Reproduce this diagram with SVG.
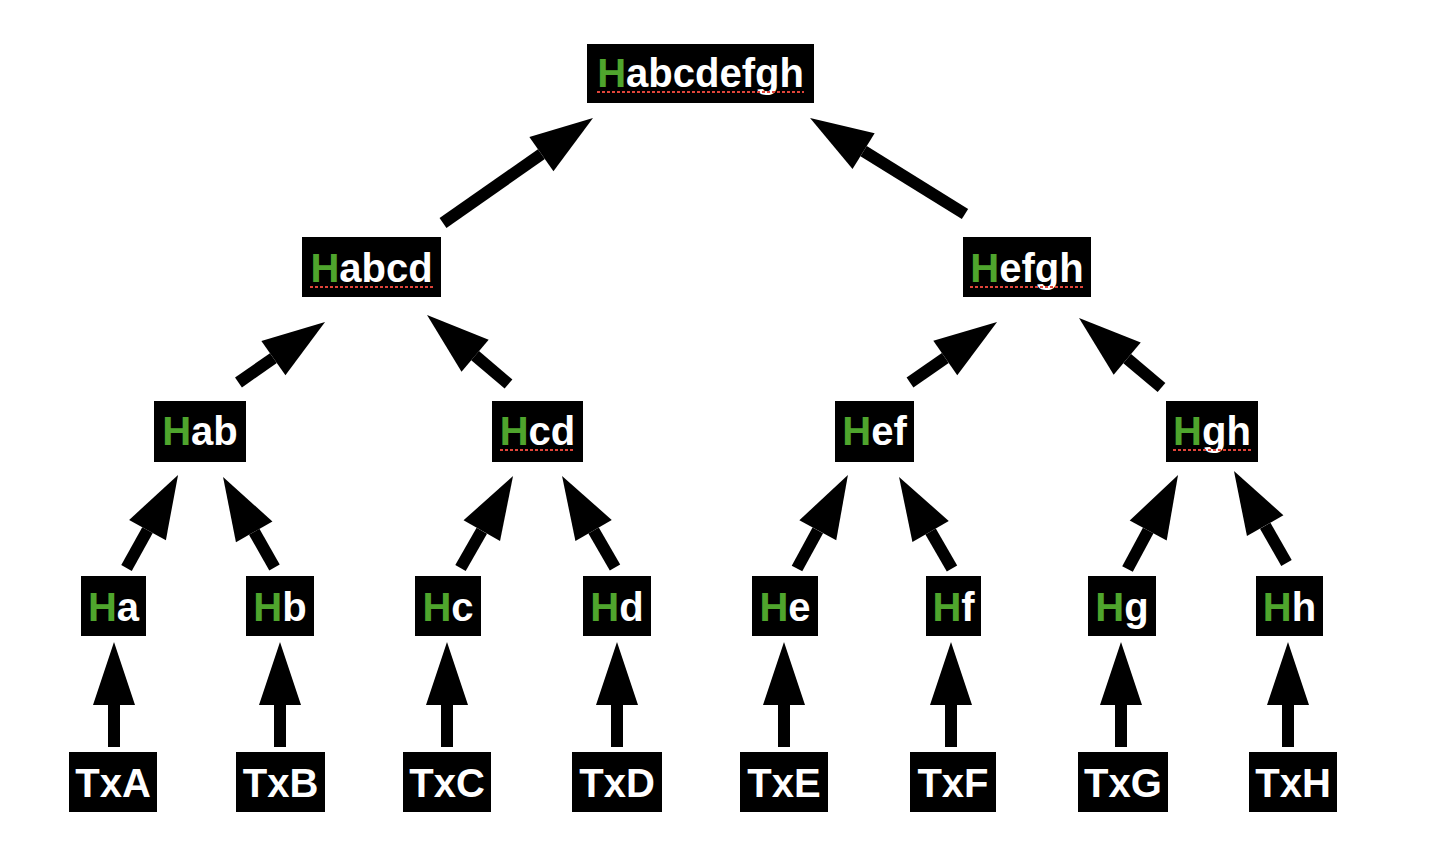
<svg xmlns="http://www.w3.org/2000/svg" width="1438" height="858" viewBox="0 0 1438 858">
<style>
.box{fill:#000}
.t{font-family:"Liberation Sans",Arial,sans-serif;font-weight:bold;font-size:40px;fill:#fff;text-anchor:middle}
.g{fill:#4fa52d}
.sp{stroke:#e0453a;stroke-width:2;stroke-dasharray:3 2;fill:none}
.c line{stroke:#000;stroke-width:12;stroke-linecap:butt;marker-end:url(#ah)}
</style>
<defs>
<marker id="ah" markerUnits="userSpaceOnUse" orient="auto" refX="0" refY="0" markerWidth="70" markerHeight="50" viewBox="0 -25 70 50" overflow="visible">
<path d="M0,-21 L63,0 L0,21 Z" fill="#000"/>
</marker>
</defs>
<rect width="1438" height="858" fill="#fff"/>
<g id="connectors" class="c">
<line x1="114" y1="747" x2="114" y2="705"/>
<line x1="280" y1="747" x2="280" y2="705"/>
<line x1="447" y1="747" x2="447" y2="705"/>
<line x1="617" y1="747" x2="617" y2="705"/>
<line x1="784" y1="747" x2="784" y2="705"/>
<line x1="951" y1="747" x2="951" y2="705"/>
<line x1="1121" y1="747" x2="1121" y2="705"/>
<line x1="1288" y1="747" x2="1288" y2="705"/>
<line x1="126.5" y1="568" x2="147.5" y2="530.1"/>
<line x1="274.5" y1="567.5" x2="254.2" y2="531.8"/>
<line x1="460.5" y1="568" x2="481.8" y2="530.7"/>
<line x1="615" y1="567.5" x2="593.6" y2="530.5"/>
<line x1="797" y1="568.5" x2="817.8" y2="530.3"/>
<line x1="952" y1="568.5" x2="930.6" y2="531.5"/>
<line x1="1127.5" y1="569" x2="1148.2" y2="530.5"/>
<line x1="1286.5" y1="563" x2="1265.2" y2="525.7"/>
<line x1="238.5" y1="382.5" x2="273.4" y2="358.1"/>
<line x1="508.5" y1="384" x2="475.1" y2="355.7"/>
<line x1="910" y1="382.5" x2="945.3" y2="358"/>
<line x1="1161.5" y1="387.5" x2="1127.2" y2="358.6"/>
<line x1="443" y1="223" x2="541.4" y2="154.1"/>
<line x1="965" y1="214" x2="863.6" y2="151.2"/>
</g>
<g id="Habcdefgh"><rect class="box" x="587" y="44" width="227" height="59"/><text class="t" x="700.5" y="87"><tspan class="g">H</tspan>abcdefgh</text><line class="sp" x1="597" y1="92" x2="804" y2="92"/></g>
<g id="Habcd"><rect class="box" x="302" y="237" width="139" height="60"/><text class="t" x="371.5" y="282"><tspan class="g">H</tspan>abcd</text><line class="sp" x1="310" y1="287" x2="433" y2="287"/></g>
<g id="Hefgh"><rect class="box" x="963" y="237" width="128" height="60"/><text class="t" x="1027" y="282"><tspan class="g">H</tspan>efgh</text><line class="sp" x1="970" y1="287" x2="1084" y2="287"/></g>
<g id="Hab"><rect class="box" x="154" y="401" width="92" height="61"/><text class="t" x="200" y="445"><tspan class="g">H</tspan>ab</text></g>
<g id="Hcd"><rect class="box" x="492" y="401" width="91" height="61"/><text class="t" x="537.5" y="445"><tspan class="g">H</tspan>cd</text><line class="sp" x1="500" y1="450" x2="575" y2="450"/></g>
<g id="Hef"><rect class="box" x="835" y="401" width="79" height="61"/><text class="t" x="874.5" y="445"><tspan class="g">H</tspan>ef</text></g>
<g id="Hgh"><rect class="box" x="1166" y="401" width="92" height="61"/><text class="t" x="1212" y="445"><tspan class="g">H</tspan>gh</text><line class="sp" x1="1173" y1="450" x2="1251" y2="450"/></g>
<g id="Ha"><rect class="box" x="81" y="576" width="65" height="60"/><text class="t" x="113.5" y="621"><tspan class="g">H</tspan>a</text></g>
<g id="Hb"><rect class="box" x="246" y="576" width="68" height="60"/><text class="t" x="280" y="621"><tspan class="g">H</tspan>b</text></g>
<g id="Hc"><rect class="box" x="415" y="576" width="66" height="60"/><text class="t" x="448" y="621"><tspan class="g">H</tspan>c</text></g>
<g id="Hd"><rect class="box" x="583" y="576" width="68" height="60"/><text class="t" x="617" y="621"><tspan class="g">H</tspan>d</text></g>
<g id="He"><rect class="box" x="752" y="576" width="66" height="60"/><text class="t" x="785" y="621"><tspan class="g">H</tspan>e</text></g>
<g id="Hf"><rect class="box" x="926" y="576" width="55" height="60"/><text class="t" x="953.5" y="621"><tspan class="g">H</tspan>f</text></g>
<g id="Hg"><rect class="box" x="1088" y="576" width="68" height="60"/><text class="t" x="1122" y="621"><tspan class="g">H</tspan>g</text></g>
<g id="Hh"><rect class="box" x="1256" y="576" width="67" height="60"/><text class="t" x="1289.5" y="621"><tspan class="g">H</tspan>h</text></g>
<g id="TxA"><rect class="box" x="69" y="752" width="88" height="60"/><text class="t" x="113" y="797">TxA</text></g>
<g id="TxB"><rect class="box" x="236" y="752" width="89" height="60"/><text class="t" x="280.5" y="797">TxB</text></g>
<g id="TxC"><rect class="box" x="403" y="752" width="88" height="60"/><text class="t" x="447" y="797">TxC</text></g>
<g id="TxD"><rect class="box" x="572" y="752" width="90" height="60"/><text class="t" x="617" y="797">TxD</text></g>
<g id="TxE"><rect class="box" x="740" y="752" width="88" height="60"/><text class="t" x="784" y="797">TxE</text></g>
<g id="TxF"><rect class="box" x="910" y="752" width="86" height="60"/><text class="t" x="953" y="797">TxF</text></g>
<g id="TxG"><rect class="box" x="1078" y="752" width="90" height="60"/><text class="t" x="1123" y="797">TxG</text></g>
<g id="TxH"><rect class="box" x="1249" y="752" width="88" height="60"/><text class="t" x="1293" y="797">TxH</text></g>
</svg>
